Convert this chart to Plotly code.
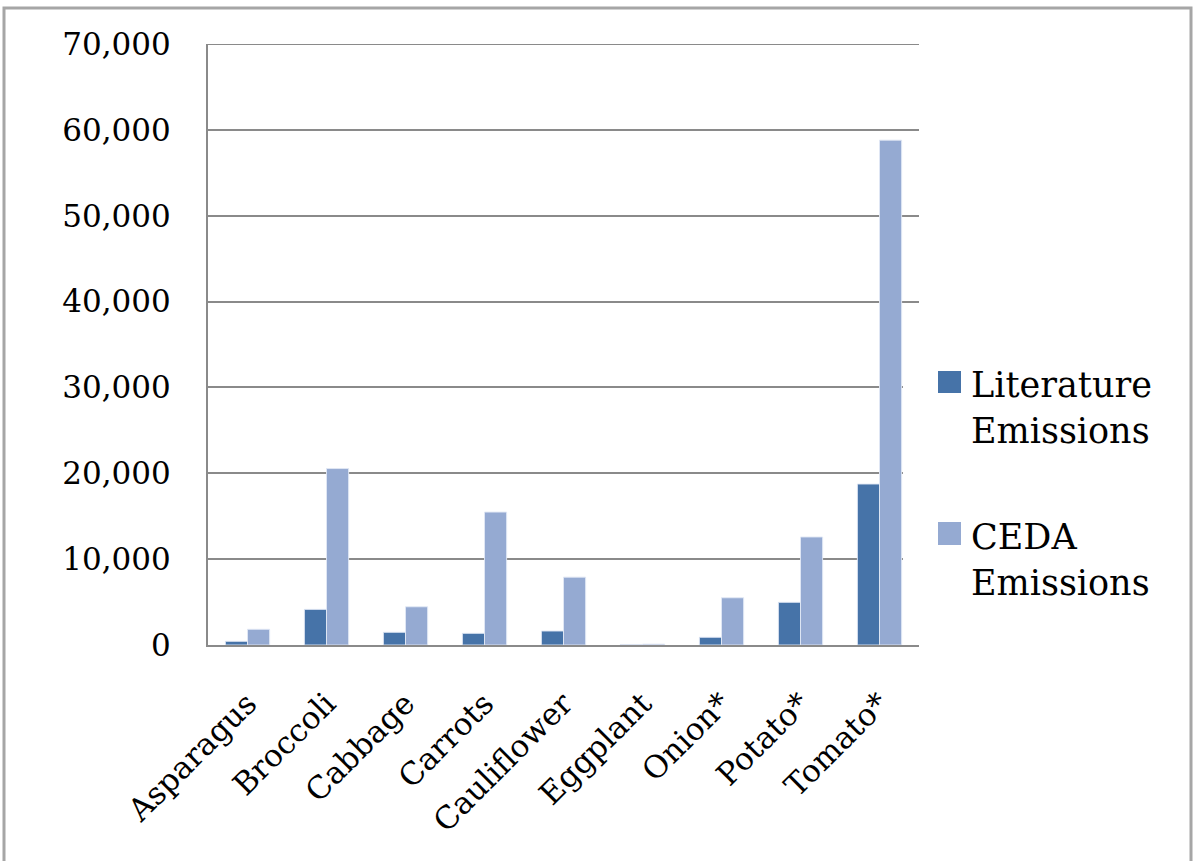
import plotly.graph_objects as go

# Emissions by vegetable type
categories = ["Asparagus", "Broccoli", "Cabbage", "Carrots", "Cauliflower",
              "Eggplant", "Onion*", "Potato*", "Tomato*"]
literature_emissions = [430, 4150, 1480, 1360, 1630, 60, 900, 4970, 18750]
ceda_emissions = [1830, 20550, 4450, 15480, 7900, 100, 5500, 12580, 58800]
series_names = ["Literature<br>Emissions", "CEDA<br>Emissions"]
series_colors = ["#4673A8", "#95AAD2"]
y_ticks = [0, 10000, 20000, 30000, 40000, 50000, 60000, 70000]

W, H = 1193, 861
L, R, T, B = 208, 919, 44, 645  # plot-area edges in pixels


def px_x(x):
    return (x - L) / (R - L)


def px_y(y):
    return (B - y) / (B - T)


FONT = "DejaVu Serif"
GRID = "#8A8A8A"

fig = go.Figure()
for name, vals, col in zip(series_names, [literature_emissions, ceda_emissions], series_colors):
    fig.add_trace(go.Bar(
        x=categories, y=vals, name=name,
        marker=dict(color=col, line=dict(color="rgba(225,232,245,0.9)", width=1)),
        showlegend=False,
    ))

fig.update_layout(
    width=W, height=H,
    margin=dict(l=L, r=W - R, t=T, b=H - B, pad=0),
    paper_bgcolor="white", plot_bgcolor="white",
    barmode="group", bargap=0.44, bargroupgap=0,
    font=dict(family=FONT, color="black", size=30),
)
fig.update_yaxes(
    range=[0, 70000], tickvals=y_ticks, tickformat=",d",
    showgrid=True, gridcolor=GRID, gridwidth=2,
    showline=True, linecolor=GRID, linewidth=2,
    zeroline=False, ticks="", ticklabelstandoff=29,
    tickfont=dict(family=FONT, size=31, color="black"),
)
fig.update_xaxes(
    showline=True, linecolor=GRID, linewidth=2,
    tickangle=-45, ticks="", showgrid=False, ticklabelstandoff=26,
    tickfont=dict(family=FONT, size=31, color="black"),
)

shapes = []
# top gridline at the end of the value range
shapes.append(dict(type="line", xref="paper", yref="y",
                   x0=0, x1=1, y0=y_ticks[-1], y1=y_ticks[-1],
                   line=dict(color=GRID, width=2), layer="below"))
# white panel behind the legend, covering gridline ends
shapes.append(dict(type="rect", xref="paper", yref="paper",
                   x0=px_x(903), x1=px_x(922), y0=px_y(360), y1=px_y(622),
                   fillcolor="white", line=dict(width=0), layer="above"))
# outer frame
shapes.append(dict(type="rect", xref="paper", yref="paper",
                   x0=px_x(4), x1=px_x(1191), y0=px_y(8), y1=px_y(900),
                   fillcolor="rgba(0,0,0,0)", line=dict(color="#A6A6A6", width=3),
                   layer="above"))

# legend swatches and labels
legend_rows = [(371, 393, 363), (522, 545, 515)]
annotations = []
for (y0, y1, ty), name, col in zip(legend_rows, series_names, series_colors):
    shapes.append(dict(type="rect", xref="paper", yref="paper",
                       x0=px_x(938), x1=px_x(961), y0=px_y(y1), y1=px_y(y0),
                       fillcolor=col, line=dict(width=0), layer="above"))
    annotations.append(dict(xref="paper", yref="paper", x=px_x(969), y=px_y(ty),
                            xanchor="left", yanchor="top", align="left",
                            text=name, showarrow=False,
                            font=dict(family=FONT, size=35, color="black")))

fig.update_layout(shapes=shapes, annotations=annotations)
fig.write_html("out.html")
